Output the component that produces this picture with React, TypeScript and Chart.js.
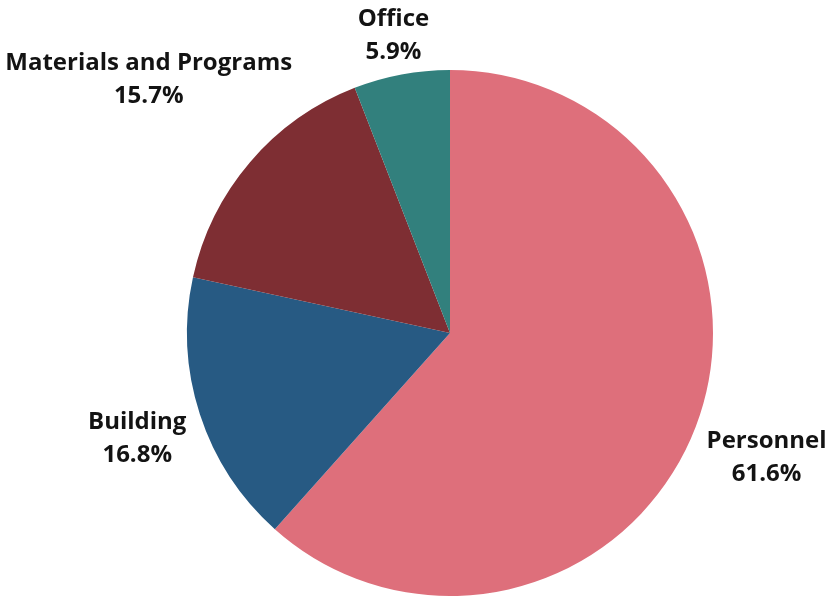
import React, { useEffect, useRef } from "react";
import { Chart, registerables } from "chart.js";

Chart.register(...registerables);

const categories = ["Personnel", "Building", "Materials and Programs", "Office"];
const shares = [61.6, 16.8, 15.7, 5.9];
const sliceColors = ["#DE6F7B", "#275A83", "#7E2E33", "#32807D"];

const labelPlugin = {
  id: "outerLabels",
  afterDatasetsDraw(chart: any) {
    const { ctx } = chart;
    const meta = chart.getDatasetMeta(0);
    ctx.save();
    ctx.font = "bold 24px 'Open Sans', sans-serif";
    ctx.fillStyle = "#131313";
    ctx.textAlign = "center";
    ctx.textBaseline = "middle";
    const lineGap = 33;
    meta.data.forEach((arc: any, i: number) => {
      const { x, y, startAngle, endAngle, outerRadius } = arc.getProps(
        ["x", "y", "startAngle", "endAngle", "outerRadius"],
        true
      );
      const mid = (startAngle + endAngle) / 2;
      const line1 = categories[i];
      const line2 = shares[i].toFixed(1) + "%";
      const halfW = Math.max(ctx.measureText(line1).width, ctx.measureText(line2).width) / 2;
      const halfH = 30;
      const c = Math.cos(mid);
      const s = Math.sin(mid);
      const d = outerRadius + 14 + Math.abs(c) * halfW * 0.95 + Math.abs(s) * halfH * 0.8;
      const cx = x + c * d;
      const cy = y + s * d + 4;
      ctx.fillText(line1, cx, cy - lineGap / 2);
      ctx.fillText(line2, cx, cy + lineGap / 2);
    });
    ctx.restore();
  },
};

export default function App() {
  const ref = useRef<HTMLCanvasElement>(null);
  useEffect(() => {
    const chart = new Chart(ref.current as HTMLCanvasElement, {
      type: "pie",
      data: {
        labels: categories,
        datasets: [
          {
            data: shares,
            backgroundColor: sliceColors,
            borderWidth: 0,
          },
        ],
      },
      options: {
        animation: false,
        responsive: false,
        maintainAspectRatio: false,
        layout: { padding: { left: 187, right: 115, top: 70, bottom: 1 } },
        plugins: {
          legend: { display: false },
          tooltip: { enabled: false },
        },
      },
      plugins: [labelPlugin],
    });
    return () => chart.destroy();
  }, []);
  return (
    <div style={{ position: "absolute", left: 0, top: 0, width: 828, height: 597, background: "#fff" }}>
      <canvas ref={ref} width={828} height={597} />
    </div>
  );
}
